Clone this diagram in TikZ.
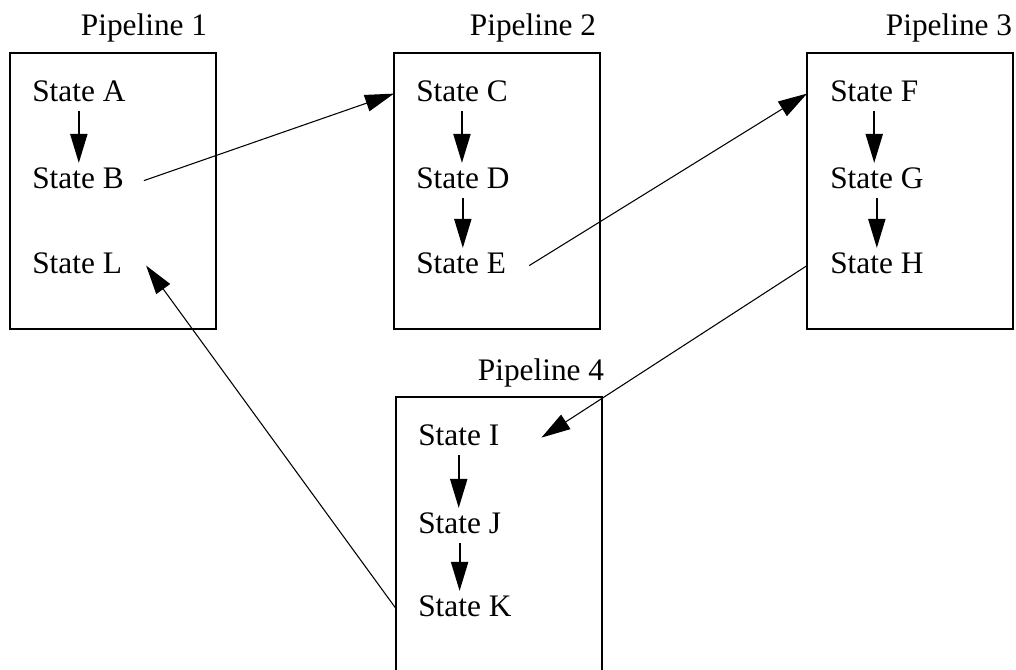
\documentclass[tikz,border=0pt]{standalone}
\usepackage{fontspec}
\setmainfont{Liberation Serif}
\usetikzlibrary{arrows.meta,calc}

\tikzset{
  pipebox/.style={draw, line width=1.5pt, anchor=north west, minimum width=154.5pt,
    minimum height=207pt, inner sep=0pt, outer sep=0pt},
  state/.style={anchor=base west, inner sep=0pt, text height=18.6pt, text depth=7.5pt,
    font=\fontsize{23.5}{28}\selectfont},
  pipename/.style={anchor=base, inner sep=0pt, font=\fontsize{23.5}{28}\selectfont},
  flow/.style={-{Triangle[length=21.75pt,width=12.75pt]}, line width=1.5pt},
  jump/.style={-{Triangle[length=21.75pt,width=12.75pt]}, line width=0.8pt}
}

\begin{document}
\begin{tikzpicture}[x=0.75pt,y=-0.75pt]
\useasboundingbox (0,0) rectangle (1016,669);
\clip (0,0) rectangle (1016,669);

% pipeline boxes
\node[pipebox] (p1) at (10,53) {};
\node[pipebox] (p2) at (394,53) {};
\node[pipebox] (p3) at (807,53) {};
\node[pipebox, minimum height=240pt] (p4) at (396,397) {};

\node[pipename] (n1) at (144,35) {Pipeline 1};
\node[pipename] (n2) at (533,35) {Pipeline 2};
\node[pipename] (n3) at (949,35) {Pipeline 3};
\node[pipename] (n4) at (541,380) {Pipeline 4};

% states
\node[state] (A) at (32,101) {State A};
\node[state] (B) at (32,188) {State B};
\node[state] (L) at (32,273) {State L};
\node[state] (C) at (416,101) {State C};
\node[state] (D) at (416,188) {State D};
\node[state] (E) at (416,273) {State E};
\node[state] (F) at (830,101) {State F};
\node[state] (G) at (830,188) {State G};
\node[state] (H) at (830,273) {State H};
\node[state] (I) at (418,445) {State I};
\node[state] (J) at (418,533) {State J};
\node[state] (K) at (418,616) {State K};

% steps inside a pipeline
\foreach \u/\v in {A/B, C/D, D/E, F/G, G/H, I/J, J/K}
  \draw[flow] (\u.south) -- (\u.south |- \v.north);

% jumps between pipelines
\coordinate (Bout) at ($(B.east)+(20,0)$);
\coordinate (Eout) at ($(E.east)+(23,0)$);
\coordinate (Iin) at ($(I.east)+(42,0)$);
\coordinate (Lin) at ($(L.east)+(24,0)$);

\draw[jump] (Bout) -- (p2.west |- C);
\draw[jump] (Eout) -- (p3.west |- F);
\draw[jump] (p3.west |- H) -- (Iin);
\draw[jump] (p4.west |- K) -- (Lin);

\end{tikzpicture}
\end{document}
